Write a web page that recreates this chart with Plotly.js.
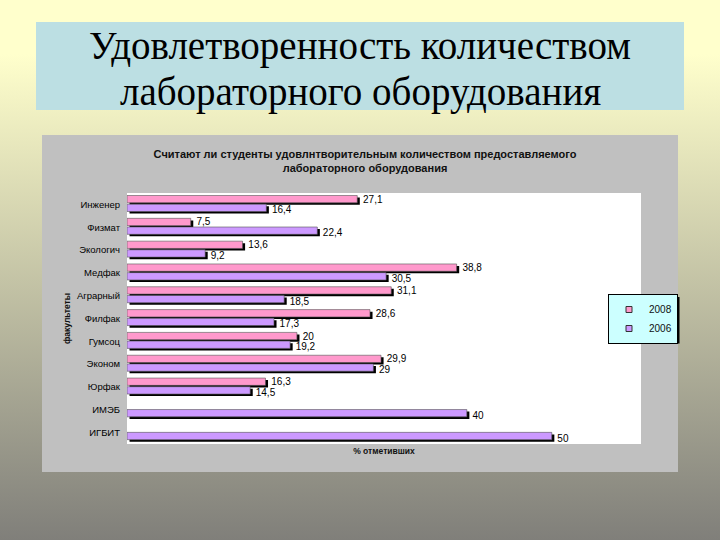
<!DOCTYPE html>
<html>
<head>
<meta charset="utf-8">
<script src="https://cdn.plot.ly/plotly-3.0.1.min.js"></script>
<style>
html,body{margin:0;padding:0;width:720px;height:540px;overflow:hidden;
background:linear-gradient(to bottom,#FFFFCC 0%,#FFFFCC 10%,#807F7A 100%);}
#chart{width:720px;height:540px;}
</style>
</head>
<body>
<div id="chart"></div>
<script>
// ---- data ----
const faculties = ["Инженер","Физмат","Экологич","Медфак","Аграрный","Филфак","Гумсоц","Эконом","Юрфак","ИМЭБ","ИГБИТ"];
const values2008 = [27.1, 7.5, 13.6, 38.8, 31.1, 28.6, 20, 29.9, 16.3, null, null];
const values2006 = [16.4, 22.4, 9.2, 30.5, 18.5, 17.3, 19.2, 29, 14.5, 40, 50];
const seriesNames = ["2008","2006"];
const slideTitleLines = ["Удовлетворенность количеством", "лабораторного оборудования"];
const chartTitle = "Считают ли студенты удовлнтворительным количеством предоставляемого<br>лабораторного оборудования";
const xTitle = "% отметивших";
const yTitle = "факультеты";

const fmt = v => (v === null ? "" : String(v).replace(".", ","));
const PINK = "#FF99CC", PURPLE = "#CC99FF";
const W = 0.32, SH = 0.3;
const SANS = "Liberation Sans, Arial, sans-serif";
const LABEL_FONT = {family:SANS, size:10, color:"#000"};

function shadow(vals, off, withText){
  const t = {type:"bar", orientation:"h", y:faculties, x:vals, base:SH,
    offset:off+0.09, width:W, marker:{color:"#000000", line:{width:0}},
    showlegend:false, hoverinfo:"skip", cliponaxis:false};
  if (withText) Object.assign(t, {text:vals.map(fmt), textposition:"outside",
    constraintext:"none", textfont:LABEL_FONT});
  else t.textposition = "none";
  return t;
}
function main(vals, off, color, withText){
  const t = {type:"bar", orientation:"h", y:faculties, x:vals,
    offset:off, width:W, marker:{color:color, line:{width:0.6, color:"#555"}},
    hoverinfo:"skip", showlegend:false, cliponaxis:false};
  if (withText) Object.assign(t, {text:vals.map(v => v === null ? "" : "\u00A0" + fmt(v)),
    textposition:"outside", constraintext:"none", textfont:LABEL_FONT});
  else t.textposition = "none";
  return t;
}
function legendEntry(color, name, group){
  return {type:"scatter", mode:"markers", x:[null], y:[null], name:name, legendgroup:group,
    marker:{symbol:"square", size:6, color:color, line:{width:1, color:"#333"}},
    hoverinfo:"skip", showlegend:true};
}

const data = [
  shadow(values2008, -0.39, false),
  shadow(values2006, -0.01, true),
  main(values2008, -0.39, PINK, true),
  main(values2006, -0.01, PURPLE, false),
  legendEntry(PINK, seriesNames[0], "a"),
  legendEntry(PURPLE, seriesNames[1], "b")
];

const px = v => (v - 127) / 514;
const py = v => (444 - v) / 251;

const layout = {
  width:720, height:540,
  margin:{l:127, r:79, t:193, b:96, pad:0},
  paper_bgcolor:"rgba(0,0,0,0)", plot_bgcolor:"rgba(0,0,0,0)",
  barmode:"overlay", hovermode:false,
  font:{family:SANS, color:"#111"},
  title:{text:chartTitle, x:365/720, xanchor:"center", y:1-158/540, yanchor:"middle",
    font:{size:11, weight:"bold", color:"#111"}},
  xaxis:{range:[0,60.5], showticklabels:false, showgrid:false, zeroline:false, ticks:"", showline:false,
    title:{text:xTitle, standoff:4, font:{size:8.5, weight:"bold", color:"#111"}}},
  yaxis:{type:"category", range:[10.5,-0.5], showgrid:false, zeroline:false, ticks:"", showline:false,
    ticklabelstandoff:6, tickfont:{size:9.5, color:"#000"},
    title:{text:yTitle, standoff:4, font:{size:8.5, weight:"bold", color:"#111"}}},
  legend:{x:px(678), xanchor:"right", y:py(294), yanchor:"top",
    bgcolor:"#CCFFFF", bordercolor:"#000", borderwidth:1, itemwidth:30,
    font:{size:10, color:"#111"}, traceorder:"normal", tracegroupgap:8},
  shapes:[
    {type:"rect", xref:"paper", yref:"paper", layer:"below",
      x0:px(36), x1:px(684), y0:py(110), y1:py(22),
      fillcolor:"#BCDFE3", line:{width:0}},
    {type:"rect", xref:"paper", yref:"paper", layer:"below",
      x0:px(42), x1:px(678), y0:py(472), y1:py(135),
      fillcolor:"#C0C0C0", line:{width:0}},
    {type:"rect", xref:"paper", yref:"paper", layer:"below",
      x0:0, x1:1, y0:0, y1:1, fillcolor:"#FFFFFF", line:{width:0}},
    {type:"rect", xref:"paper", yref:"paper", layer:"above",
      x0:px(612), x1:px(679.5), y0:py(343.5), y1:py(297),
      fillcolor:"#000000", line:{width:0}}
  ],
  annotations:slideTitleLines.map((t, i) => ({
    text:t, xref:"paper", yref:"paper", x:px(360), y:py(i === 0 ? 46 : 92),
    xanchor:"center", yanchor:"middle", showarrow:false,
    font:{family:"Liberation Serif, Times New Roman, serif", size:39, color:"#000"}}))
};

Plotly.newPlot("chart", data, layout, {displayModeBar:false, staticPlot:true});
</script>
</body>
</html>
